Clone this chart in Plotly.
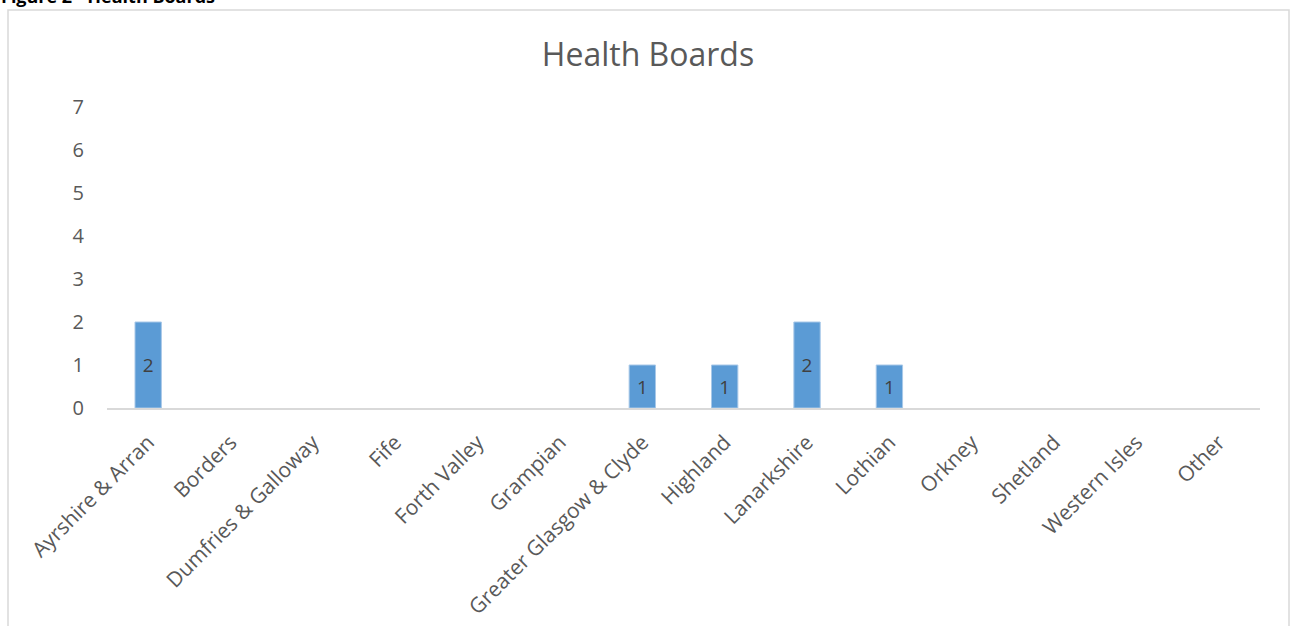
import plotly.graph_objects as go

categories = ["Ayrshire & Arran", "Borders", "Dumfries & Galloway", "Fife", "Forth Valley",
              "Grampian", "Greater Glasgow & Clyde", "Highland", "Lanarkshire", "Lothian",
              "Orkney", "Shetland", "Western Isles", "Other"]
values = [2, 0, 0, 0, 0, 0, 1, 1, 2, 1, 0, 0, 0, 0]
y_ticks = [0, 1, 2, 3, 4, 5, 6, 7]

W, Hh = 1295, 626
L, R, T, B = 107, 1260, 107, 408
pw, ph = R - L, B - T

def px(x):
    return (x - L) / pw

def py(y):
    return (B - y) / ph

labels = [str(v) if v > 0 else "" for v in values]
line_w = [1 if v > 0 else 0 for v in values]

fig = go.Figure(go.Bar(
    x=categories, y=values,
    text=labels, textposition="inside", insidetextanchor="middle",
    textfont=dict(family="Open Sans", size=19, color="#404040"),
    marker=dict(color="#5b9bd5", line=dict(color="#a8c8e8", width=line_w)),
    width=0.32, hoverinfo="x+y",
))

fig.update_layout(
    width=W, height=Hh,
    margin=dict(l=L, r=W - R, t=T, b=Hh - B, autoexpand=False),
    paper_bgcolor="white", plot_bgcolor="white",
    showlegend=False,
    font=dict(family="Open Sans", color="#595959"),
    title=dict(text="Health Boards", x=648 / W, xanchor="center", xref="container",
               yref="container", y=1 - 55 / Hh, yanchor="middle",
               font=dict(family="Open Sans", size=32, color="#595959")),
    xaxis=dict(
        showgrid=False, showline=True, linecolor="#d9d9d9", linewidth=1.5,
        tickangle=-45, ticks="", ticklabelstandoff=12,
        tickfont=dict(family="Open Sans", size=21, color="#595959"),
        zeroline=False,
    ),
    yaxis=dict(
        range=[0, 7], tickvals=y_ticks, showgrid=False, showline=False,
        zeroline=False, ticks="", ticklabelstandoff=22,
        tickfont=dict(family="Open Sans", size=20, color="#595959"),
    ),
    shapes=[dict(type="rect", xref="paper", yref="paper",
                 x0=px(8), x1=px(1289), y0=py(650), y1=py(10),
                 line=dict(color="#d9d9d9", width=1.5), fillcolor="rgba(0,0,0,0)",
                 layer="below")],
    annotations=[dict(text="<b>Figure 2 - Health Boards</b>", xref="paper", yref="paper",
                      x=px(0), y=py(9), xanchor="left", yanchor="bottom",
                      showarrow=False, borderpad=0,
                      font=dict(family="Open Sans", size=18, color="#000000"))],
)

fig.write_html("out.html", config={"displayModeBar": False},
               post_script="document.body.style.margin='0';")
